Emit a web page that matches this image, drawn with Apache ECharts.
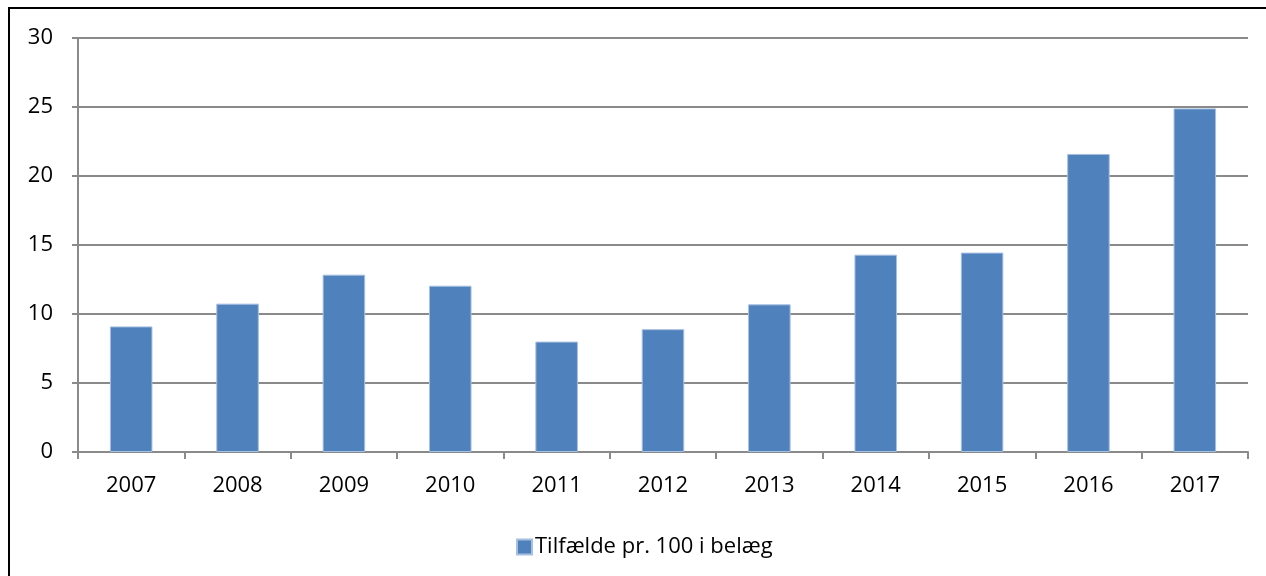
<!DOCTYPE html>
<html>
<head>
<meta charset="utf-8">
<script src="https://cdn.jsdelivr.net/npm/echarts@6/dist/echarts.min.js"></script>
<style>
  html, body { margin: 0; padding: 0; background: #fff; }
  #container { width: 1266px; height: 576px; }
</style>
</head>
<body>
<div id="container"></div>
<script>
var years = ['2007', '2008', '2009', '2010', '2011', '2012', '2013', '2014', '2015', '2016', '2017'];
var cases = [9.1, 10.75, 12.85, 12.05, 8.0, 8.9, 10.7, 14.3, 14.45, 21.6, 24.9];
var seriesName = 'Tilfælde pr. 100 i belæg';

var font = '"Open Sans", "Noto Sans", sans-serif';
var myChart = echarts.init(document.getElementById('container'));

var option = {
    animation: false,
    textStyle: { fontFamily: font },
    graphic: [
        // frame around the chart (only left and top edges visible)
        { type: 'line', shape: { x1: 9, y1: 8, x2: 9, y2: 576 }, style: { stroke: '#000', lineWidth: 2 } },
        { type: 'line', shape: { x1: 8, y1: 8, x2: 1266, y2: 8 }, style: { stroke: '#000', lineWidth: 2 } }
    ],
    grid: { left: 78, right: 18, top: 38, bottom: 124 },
    legend: {
        data: [seriesName],
        left: 511,
        top: 531,
        itemWidth: 15,
        itemHeight: 15,
        itemGap: 8,
        icon: 'rect',
        textStyle: { fontFamily: font, fontSize: 22, color: '#000', padding: [0, 0, 0, -2] }
    },
    xAxis: {
        type: 'category',
        data: years,
        axisLine: { lineStyle: { color: '#8a8a8a', width: 2 } },
        axisTick: { show: true, length: 7, lineStyle: { color: '#8a8a8a', width: 2 } },
        axisLabel: { color: '#000', fontSize: 22, margin: 23, fontFamily: font }
    },
    yAxis: {
        type: 'value',
        min: 0,
        max: 30,
        interval: 5,
        axisLine: { show: true, lineStyle: { color: '#8a8a8a', width: 2 } },
        axisTick: { show: true, length: 6, lineStyle: { color: '#8a8a8a', width: 2 } },
        axisLabel: { color: '#000', fontSize: 22, margin: 25, fontFamily: font },
        splitLine: { lineStyle: { color: '#8a8a8a', width: 2 } }
    },
    series: [
        {
            name: seriesName,
            type: 'bar',
            data: cases,
            barWidth: '40%',
            itemStyle: { color: '#4f81bd', borderColor: '#a7bfe0', borderWidth: 1 }
        }
    ]
};

myChart.setOption(option);
</script>
</body>
</html>
